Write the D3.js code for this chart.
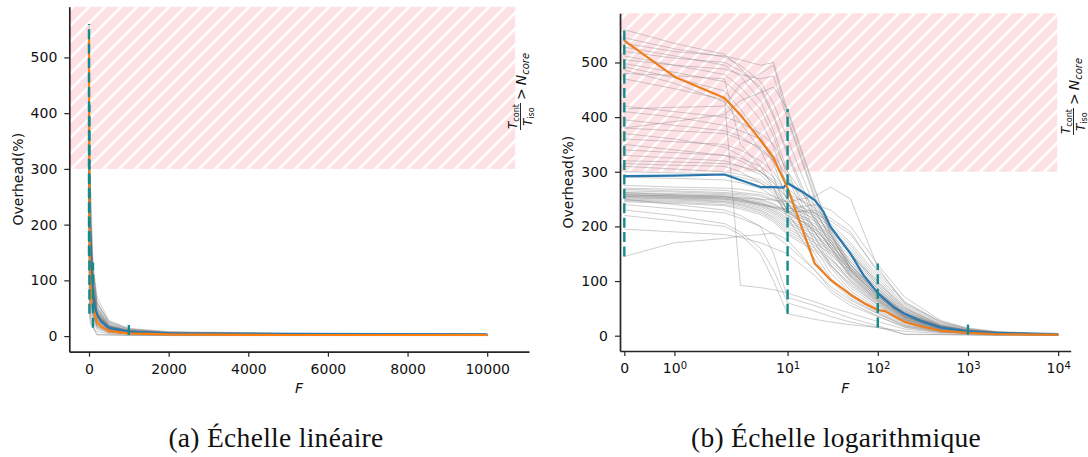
<!DOCTYPE html>
<html><head><meta charset="utf-8">
<script src="https://cdn.jsdelivr.net/npm/d3@7"></script>
<style>
html,body{margin:0;padding:0;background:#fff;}
svg{display:block;}
</style></head>
<body><svg id="chart" width="1088" height="457"></svg>
<script>
// ---------------- DATA ----------------
const fGrid = [0,1,2,3,5,7,10,20,30,50,100,200,500,1000,2000,5000,10000];
const grayRuns = [
 [560,535,515,490,450,400,330,210,160,105,62,30,12,6,4,3,2],
 [545,525,510,495,465,425,360,235,175,112,66,34,14,8,5,3,3],
 [535,520,512,505,495,500,410,265,195,128,80,40,18,10,6,4,3],
 [528,512,495,475,430,375,300,190,145,98,58,29,12,7,4,3,2],
 [520,508,500,485,455,405,335,220,165,108,64,33,14,8,5,3,2],
 [512,495,478,455,415,365,290,180,130,88,52,26,10,6,4,2,2],
 [505,495,488,478,470,475,395,250,185,122,76,38,16,9,6,4,3],
 [498,482,465,440,395,345,270,170,125,82,49,24,10,6,4,3,2],
 [492,472,448,415,365,315,245,160,115,77,46,22,10,5,3,2,2],
 [486,462,428,390,340,290,225,150,105,72,43,20,9,5,3,2,1],
 [480,476,470,350,310,270,215,140,100,68,41,18,8,5,3,2,2],
 [470,452,432,92,88,84,78,62,52,41,26,12,6,4,3,2,2],
 [415,418,420,460,480,495,400,255,190,122,72,35,15,8,5,3,2],
 [380,392,405,430,445,455,415,270,185,118,68,34,14,7,4,3,2],
 [420,410,400,390,370,350,300,230,180,130,78,40,16,8,5,3,2],
 [410,400,385,375,360,330,290,215,170,120,72,36,15,8,5,3,2],
 [395,385,375,365,340,320,280,240,200,150,92,45,18,9,5,3,2],
 [380,375,370,360,345,320,270,225,185,135,86,42,17,9,5,3,2],
 [370,360,345,330,300,280,250,200,160,118,74,37,15,8,4,3,2],
 [360,355,350,340,320,300,260,215,175,130,82,40,16,8,5,3,2],
 [350,340,330,320,300,280,240,190,150,110,66,32,13,7,4,3,2],
 [340,335,330,325,310,290,260,235,195,150,98,50,20,10,6,4,3],
 [330,325,320,310,295,270,230,180,140,102,62,30,12,6,4,3,2],
 [320,318,315,310,300,285,250,210,170,125,77,38,15,8,5,3,2],
 [315,312,310,300,280,260,220,170,130,92,56,27,11,6,4,2,2],
 [310,305,300,295,285,270,240,200,160,118,72,35,14,7,4,3,2],
 [300,298,296,290,280,265,230,190,155,112,70,34,14,7,4,3,2],
 [290,288,285,280,270,255,225,195,165,124,80,40,16,8,5,3,2],
 [275,272,270,268,262,255,245,225,205,170,110,55,22,11,6,4,3],
 [270,268,266,262,258,250,240,220,200,165,105,52,20,10,6,4,3],
 [268,265,262,260,255,248,235,215,195,160,100,50,19,10,6,4,3],
 [265,263,260,258,250,242,228,210,190,155,96,48,18,9,5,3,2],
 [262,260,258,255,248,240,225,205,185,150,92,46,18,9,5,3,2],
 [260,258,256,252,245,236,220,200,180,145,88,44,17,9,5,3,2],
 [258,256,254,250,243,233,215,195,175,140,85,42,16,8,5,3,2],
 [256,254,252,248,240,230,212,190,170,135,82,40,15,8,4,3,2],
 [255,253,250,246,238,228,208,185,165,130,78,38,15,8,4,3,2],
 [253,251,248,244,236,225,205,180,160,125,75,36,14,7,4,3,2],
 [252,250,246,242,233,222,200,175,155,120,72,34,14,7,4,3,2],
 [250,248,245,240,230,218,196,170,150,115,68,32,13,7,4,2,2],
 [248,246,243,238,228,215,192,165,140,108,64,30,12,6,4,2,2],
 [247,244,240,235,225,212,188,160,135,100,60,28,11,6,3,2,2],
 [245,242,238,232,222,208,185,155,128,95,56,26,10,5,3,2,2],
 [262,258,255,250,240,235,230,225,210,185,120,62,25,12,7,4,3],
 [258,255,252,248,242,236,232,240,230,200,130,70,28,14,8,5,3],
 [255,252,250,246,240,234,226,230,215,190,115,60,26,13,7,4,3],
 [258,256,254,252,250,248,245,255,272,250,125,58,24,12,7,4,3],
 [240,232,225,215,200,185,165,120,90,65,40,18,8,4,3,2,1],
 [195,190,185,180,170,160,150,110,80,55,35,15,6,4,2,2,1],
 [145,170,178,182,185,188,175,120,85,60,36,16,7,4,3,2,1],
 [230,220,205,190,160,120,60,45,35,25,15,3,2,2,1,1,1],
 [220,210,200,185,150,100,40,30,25,20,15,8,4,2,1,1,1],
 [250,240,230,220,200,150,70,55,45,32,18,2,2,1,1,1,1]
];
const orangeF    = [0,1,2,3,5,7,10,13,20,30,50,70,100,120,200,300,500,1000,2000,5000,10000];
const orangeVals = [540,474,435,404,358,325,270,218,132,102,75,60,47,45,25,17,9,5,3,2,2];
const blueF      = [0,1,2,5,7,9,10,15,20,25,30,50,70,100,150,200,300,500,1000,2000,5000,10000];
const blueVals   = [292,293,295,272,272,271,279,262,248,227,199,150,110,78,52,40,27,15,8,5,4,3];
const vlineF  = [0,10,100,1000];
const vlineLo = [145,40,15,2];
const vlineHi = [560,415,132,27];
const yTicks = [0,100,200,300,400,500];
const xTicksLin = [0,2000,4000,6000,8000,10000];
const xTicksLog = [0,1,10,100,1000,10000];
const threshold = 300;
const captions = ["(a) Échelle linéaire","(b) Échelle logarithmique"];

// ---------------- DRAW ----------------
const svg = d3.select("#chart");
const FONT = "'DejaVu Sans',sans-serif";
const defs = svg.append("defs");
const pat = defs.append("pattern").attr("id","hatch").attr("patternUnits","userSpaceOnUse")
  .attr("width",16).attr("height",16);
pat.append("rect").attr("width",16).attr("height",16).attr("fill","#fee1e4");
pat.append("path").attr("d","M-4,4 L4,-4 M0,16 L16,0 M12,20 L20,12")
  .attr("stroke","#fff").attr("stroke-width",2.6);

// symlog transform (linthresh=2, linscale=1, base 10)
function symT(x){const c=2, la=1/(1-1/10), a=Math.abs(x);
  return a<=c ? x*la : Math.sign(x)*c*(la+Math.log10(a/c));}

const panels = [
 {x0:69.3, x1:529, y0:6.7, y1:351.7, xdom:[-495,11050], ydom:[-28,591], log:false, orange:"#ff7f0e",
  ylab:18.3, mx:526, my:89},
 {x0:620, x1:1070.7, y0:13.3, y1:351, xdom:[-0.086,13770], ydom:[-28,590], log:true, orange:"#ec7e1e",
  ylab:568.3, mx:1079, my:94}
];

panels.forEach((p,pi)=>{
  const g = svg.append("g");
  let xs, X;
  if(!p.log){ xs = d3.scaleLinear().domain(p.xdom).range([p.x0,p.x1]); X = f=>xs(f); }
  else { xs = d3.scaleLinear().domain(p.xdom.map(symT)).range([p.x0,p.x1]); X = f=>xs(symT(f)); }
  const ys = d3.scaleLinear().domain(p.ydom).range([p.y1,p.y0]);

  const hx1 = p.x0 + 0.97*(p.x1-p.x0);
  g.append("rect").attr("x",p.x0).attr("y",ys(p.ydom[1])).attr("width",hx1-p.x0)
    .attr("height",ys(threshold)-ys(p.ydom[1])).attr("fill","url(#hatch)");

  const line = d3.line();
  g.append("g").selectAll("path").data(grayRuns).join("path")
    .attr("d",r=>line(r.map((v,i)=>[X(fGrid[i]),ys(v)])))
    .attr("fill","none").attr("stroke","#7f7f7f").attr("stroke-opacity",0.38).attr("stroke-width",1)
    .attr("stroke-linejoin","round");
  g.append("path").attr("d",line(blueVals.map((v,i)=>[X(blueF[i]),ys(v)])))
    .attr("fill","none").attr("stroke","#2a78b0").attr("stroke-width",2.2).attr("stroke-linejoin","round");
  g.append("path").attr("d",line(orangeVals.map((v,i)=>[X(orangeF[i]),ys(v)])))
    .attr("fill","none").attr("stroke",p.orange).attr("stroke-width",2.2).attr("stroke-linejoin","round");
  g.append("g").selectAll("line").data(vlineF).join("line")
    .attr("x1",d=>X(d)).attr("x2",d=>X(d))
    .attr("y1",(d,i)=>ys(vlineLo[i])).attr("y2",(d,i)=>ys(vlineHi[i]))
    .attr("stroke","#148a8a").attr("stroke-width",2.4).attr("stroke-dasharray","10,4.4");

  const ya = g.append("g").attr("transform",`translate(${p.x0},0)`)
    .call(d3.axisLeft(ys).tickValues(yTicks).tickSize(5).tickPadding(7).tickSizeOuter(0));
  const xa = g.append("g").attr("transform",`translate(0,${p.y1})`);
  if(!p.log){
    xa.call(d3.axisBottom(xs).tickValues(xTicksLin).tickSize(5).tickPadding(7).tickSizeOuter(0).tickFormat(d3.format("d")));
  } else {
    xa.call(d3.axisBottom(xs).tickValues(xTicksLog.map(symT)).tickSize(5).tickPadding(7).tickSizeOuter(0));
    xa.selectAll(".tick text").each(function(d,i){
      const t=d3.select(this); const v=xTicksLog[i]; t.text(null);
      if(v===0){ t.text("0"); }
      else { t.append("tspan").text("10");
             t.append("tspan").attr("dy","-0.42em").style("font-size","10px").text(String(Math.round(Math.log10(v)))); }
    });
  }
  [ya,xa].forEach(a=>{
    a.select(".domain").attr("stroke","#262626").attr("stroke-width",1.7);
    a.selectAll(".tick line").attr("stroke","#262626").attr("stroke-width",1.2);
    a.selectAll(".tick text").style("font-family",FONT).style("font-size","14px").attr("fill","#111");
  });
  g.append("text").attr("transform",`translate(${p.ylab},${(p.y0+p.y1)/2}) rotate(-90)`)
    .attr("text-anchor","middle").attr("dominant-baseline","central")
    .style("font-family",FONT).style("font-size","14px").attr("fill","#111").text("Overhead(%)");
  g.append("text").attr("x",(p.x0+p.x1)/2).attr("y",393).attr("text-anchor","middle")
    .style("font-family",FONT).style("font-size","14px").style("font-style","italic").attr("fill","#111").text("F");

  // region label (rotated math text)
  const m = g.append("g").attr("transform",`translate(${p.mx},${p.my}) rotate(-90)`)
    .style("font-family",FONT).attr("fill","#111");
  const fx = -41;
  const num = m.append("text").attr("x",fx+1).attr("y",-9.5).style("font-size","12px");
  num.append("tspan").style("font-style","italic").text("T");
  num.append("tspan").style("font-size","8px").attr("dy","2").text("cont");
  m.append("line").attr("x1",fx).attr("x2",fx+27).attr("y1",-5.5).attr("y2",-5.5).attr("stroke","#111").attr("stroke-width",0.9);
  const den = m.append("text").attr("x",fx+4).attr("y",5.5).style("font-size","12px");
  den.append("tspan").style("font-style","italic").text("T");
  den.append("tspan").style("font-size","8px").attr("dy","2").text("iso");
  const rel = m.append("text").attr("x",fx+30).attr("y",0).style("font-size","14px");
  rel.append("tspan").text(">");
  rel.append("tspan").attr("dx","3").style("font-style","italic").text("N");
  rel.append("tspan").style("font-size","10px").style("font-style","italic").attr("dy","3").text("core");
});

// captions
const capX = [276,836];
captions.forEach((c,i)=>{
  svg.append("text").attr("x",capX[i]).attr("y",447).attr("text-anchor","middle")
    .style("font-family","'Liberation Serif',serif").style("font-size","27.5px")
    .style("letter-spacing","0.3px").attr("fill","#111").text(c);
});
</script></body></html>
